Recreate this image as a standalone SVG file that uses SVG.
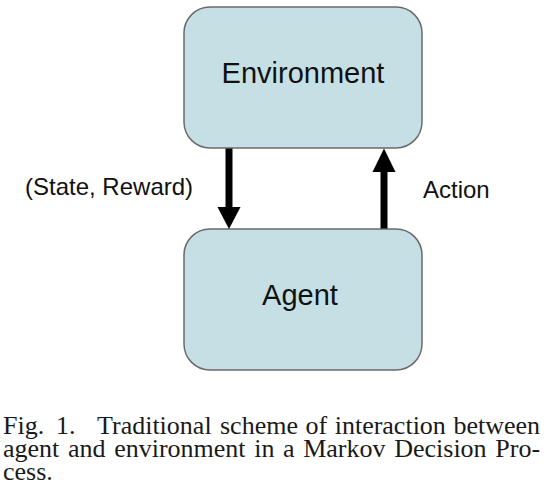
<svg xmlns="http://www.w3.org/2000/svg" width="557" height="498" viewBox="0 0 557 498">
<style>
.box{fill:#c6dfe5;stroke:#6b6b6b;stroke-width:1.5}
.lbl{font-family:"Liberation Sans",Arial,sans-serif;fill:#111}
.cap{font-family:"Liberation Serif","Times New Roman",serif;font-size:26px;fill:#1a1a1a}
.shaft{stroke:#000;stroke-width:7;fill:none}
.head{fill:#000}
</style>
<rect width="557" height="498" fill="#fff"/>
<g id="environment">
<rect class="box" x="184" y="7" width="238" height="141" rx="26" ry="26"/>
<text class="lbl" x="303" y="83" font-size="29" text-anchor="middle">Environment</text>
</g>
<g id="agent">
<rect class="box" x="184" y="229" width="238" height="141" rx="26" ry="26"/>
<text class="lbl" x="300" y="305" font-size="29" text-anchor="middle">Agent</text>
</g>
<g id="connectors">
<line class="shaft" x1="229" y1="148.5" x2="229" y2="209"/>
<polygon class="head" points="217.5,207 240.5,207 229,229"/>
<line class="shaft" x1="384" y1="228.5" x2="384" y2="170"/>
<polygon class="head" points="372.5,172 395.5,172 384,148.5"/>
<text class="lbl" x="25" y="195" font-size="24">(State, Reward)</text>
<text class="lbl" x="423" y="198" font-size="24">Action</text>
</g>
<g id="caption">
<text class="cap" y="434"><tspan x="3">Fig.</tspan><tspan x="56">1.</tspan><tspan x="97">Traditional</tspan><tspan x="220">scheme</tspan><tspan x="305.5">of</tspan><tspan x="334.7">interaction</tspan><tspan x="453.4">between</tspan></text>
<text class="cap" y="457"><tspan x="3">agent</tspan><tspan x="68">and</tspan><tspan x="114.2">environment</tspan><tspan x="254.2">in</tspan><tspan x="283.1">a</tspan><tspan x="303.2">Markov</tspan><tspan x="394.2">Decision</tspan><tspan x="495.3">Pro-</tspan></text>
<text class="cap" x="3" y="480">cess.</text>
</g>
</svg>
